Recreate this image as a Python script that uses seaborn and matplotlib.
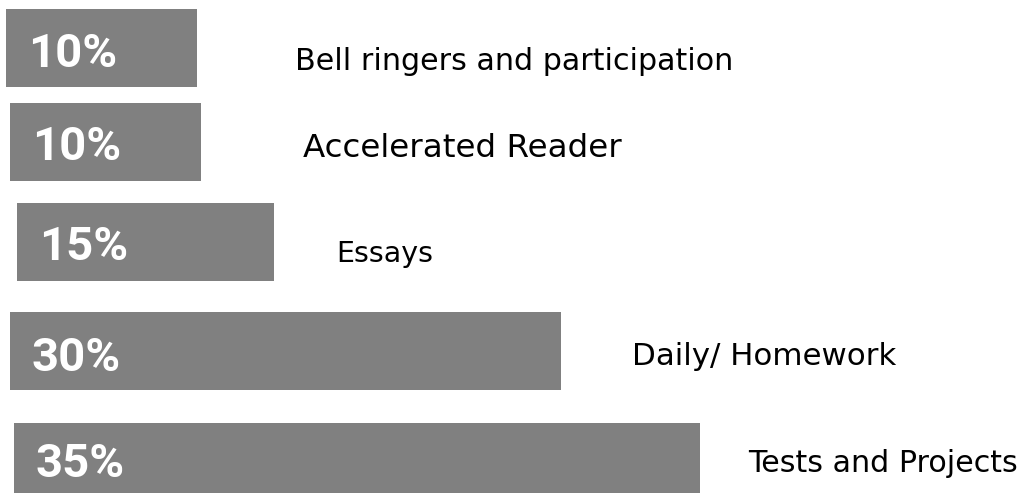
import numpy as np
import pandas as pd
import seaborn as sns
import matplotlib.pyplot as plt

sns.set_theme(style="white", context="paper")

# grading categories, top to bottom
categories = [
    "Bell ringers and participation",
    "Accelerated Reader",
    "Essays",
    "Daily/ Homework",
    "Tests and Projects",
]
shares = [10, 10, 15, 30, 35]
# bar lengths as drawn in the slide (not exactly proportional to the shares)
bar_len = [9.55, 9.55, 12.85, 27.55, 34.3]

# layout: row centres / baselines in pixels from the top, x shifts in axis units
row_y = [48, 142, 242, 351, 462]
bar_shift = [-0.2, 0.0, 0.35, 0.0, 0.2]
pct_base = [67, 160, 260, 371, 477]
label_base = [70, 157, 262, 365, 472]
label_gap = [4.9, 5.1, 3.1, 3.55, 2.4]
label_size = [21.7, 23.4, 20.5, 22.2, 21.7]

df = pd.DataFrame({
    "category": categories,
    "share": shares,
    "length": bar_len,
    "row": row_y,
})

fig = plt.figure(figsize=(10.2, 4.93), dpi=100)
ax = fig.add_axes([0, 0, 1, 1])

sns.barplot(
    data=df,
    x="length",
    y="row",
    orient="h",
    native_scale=True,
    width=78 / 94,
    color="#808080",
    saturation=1,
    linewidth=0,
    ax=ax,
)

ax.set_xlim(-0.5, 50.5)
ax.set_ylim(493, 0)
ax.set_axis_off()

# small per-row offsets of the bars, as in the slide
for p, s in zip(ax.patches, bar_shift):
    p.set_x(p.get_x() + s)

for p, pct, pb, cat, lb, gap, fs in zip(
    ax.patches, shares, pct_base, categories, label_base, label_gap, label_size
):
    ax.text(p.get_x() + 1.1, pb, f"{pct}%", color="white", fontsize=34,
            fontweight="bold", family="Roboto", va="baseline", ha="left")
    ax.text(p.get_x() + p.get_width() + gap, lb, cat, color="black",
            fontsize=fs, family="DejaVu Sans", va="baseline", ha="left")

fig.savefig("out.png", dpi=100)
